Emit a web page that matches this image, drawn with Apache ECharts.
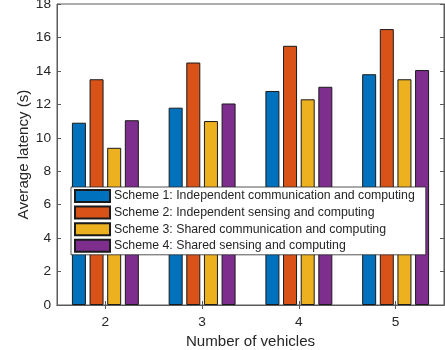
<!DOCTYPE html>
<html>
<head>
<meta charset="utf-8">
<script src="https://cdn.jsdelivr.net/npm/echarts@6/dist/echarts.min.js"></script>
<style>
  html, body { margin: 0; padding: 0; background: #fff; }
  #chart { width: 445px; height: 350px; }
</style>
</head>
<body>
<div id="chart"></div>
<script>
// Number of vehicles on the x axis
const vehicles = ['2', '3', '4', '5'];

// Average latency (s) per scheme
const scheme1 = [10.9, 11.8, 12.8, 13.8];
const scheme2 = [13.5, 14.5, 15.5, 16.5];
const scheme3 = [9.4, 11.0, 12.3, 13.5];
const scheme4 = [11.05, 12.05, 13.05, 14.05];

const schemeNames = [
  'Scheme 1: Independent communication and computing',
  'Scheme 2: Independent sensing and computing',
  'Scheme 3: Shared communication and computing',
  'Scheme 4: Shared sensing and computing'
];
const schemeValues = [scheme1, scheme2, scheme3, scheme4];
const schemeColors = ['#0072BD', '#D95319', '#EDB120', '#7E2F8E'];

// Y-axis range
const yMin = 0, yMax = 18, yStep = 2;

const textColor = '#262626';
const axisColor = '#5a5a5a';
const fontFamily = '"Liberation Sans", Arial, Helvetica, sans-serif';

const chart = echarts.init(document.getElementById('chart'), null, { renderer: 'canvas' });

const series = schemeNames.map((name, i) => ({
  name: name,
  type: 'bar',
  xAxisIndex: 0,
  yAxisIndex: 0,
  data: schemeValues[i],
  barWidth: 14,
  barGap: '26%',
  itemStyle: { color: schemeColors[i], borderColor: '#1a1a1a', borderWidth: 1 },
  emphasis: { disabled: true },
  animation: false
}));

const option = {
  animation: false,
  grid: {
    left: 57, right: 1, top: 4, bottom: 45,
    outerBoundsMode: 'none',
    containLabel: false,
    show: true, borderColor: axisColor, borderWidth: 1, backgroundColor: 'transparent'
  },
  legend: {
    orient: 'vertical',
    left: 71, top: 187,
    width: 357,
    padding: [2, 11, 2, 3],
    itemWidth: 35, itemHeight: 12, itemGap: 2.6,
    backgroundColor: '#fff',
    borderColor: textColor, borderWidth: 0.8,
    textStyle: { color: textColor, fontSize: 12.3, fontFamily: fontFamily, padding: [0, 0, 0, -1] },
    data: schemeNames,
    selectedMode: false,
    icon: 'rect'
  },
  xAxis: [
    {
      type: 'category',
      data: vehicles,
      position: 'bottom',
      name: 'Number of vehicles',
      nameLocation: 'middle',
      nameGap: 29,
      nameMoveOverlap: false,
      nameTextStyle: { color: textColor, fontSize: 15.1, fontFamily: fontFamily },
      axisLine: { show: true, lineStyle: { color: axisColor, width: 1 } },
      axisTick: { show: true, inside: true, alignWithLabel: true, length: 4, lineStyle: { color: axisColor } },
      axisLabel: { color: textColor, fontSize: 13.7, fontFamily: fontFamily, margin: 10 },
      splitLine: { show: false }
    },
    {
      type: 'category',
      data: vehicles,
      position: 'top',
      axisLine: { show: true, lineStyle: { color: axisColor, width: 1 } },
      axisTick: { show: true, inside: true, alignWithLabel: true, length: 4, lineStyle: { color: axisColor } },
      axisLabel: { show: false },
      splitLine: { show: false }
    }
  ],
  yAxis: [
    {
      type: 'value',
      min: yMin, max: yMax, interval: yStep,
      position: 'left',
      name: 'Average latency (s)',
      nameLocation: 'middle',
      nameGap: 26,
      nameMoveOverlap: false,
      nameTextStyle: { color: textColor, fontSize: 15.1, fontFamily: fontFamily },
      axisLine: { show: true, lineStyle: { color: axisColor, width: 1 } },
      axisTick: { show: true, inside: true, length: 4, lineStyle: { color: axisColor } },
      axisLabel: { color: textColor, fontSize: 13.7, fontFamily: fontFamily, margin: 6 },
      splitLine: { show: false }
    },
    {
      type: 'value',
      min: yMin, max: yMax, interval: yStep,
      position: 'right',
      axisLine: { show: true, lineStyle: { color: axisColor, width: 1 } },
      axisTick: { show: true, inside: true, length: 4, lineStyle: { color: axisColor } },
      axisLabel: { show: false },
      splitLine: { show: false }
    }
  ],
  series: series
};

chart.setOption(option);
</script>
</body>
</html>
